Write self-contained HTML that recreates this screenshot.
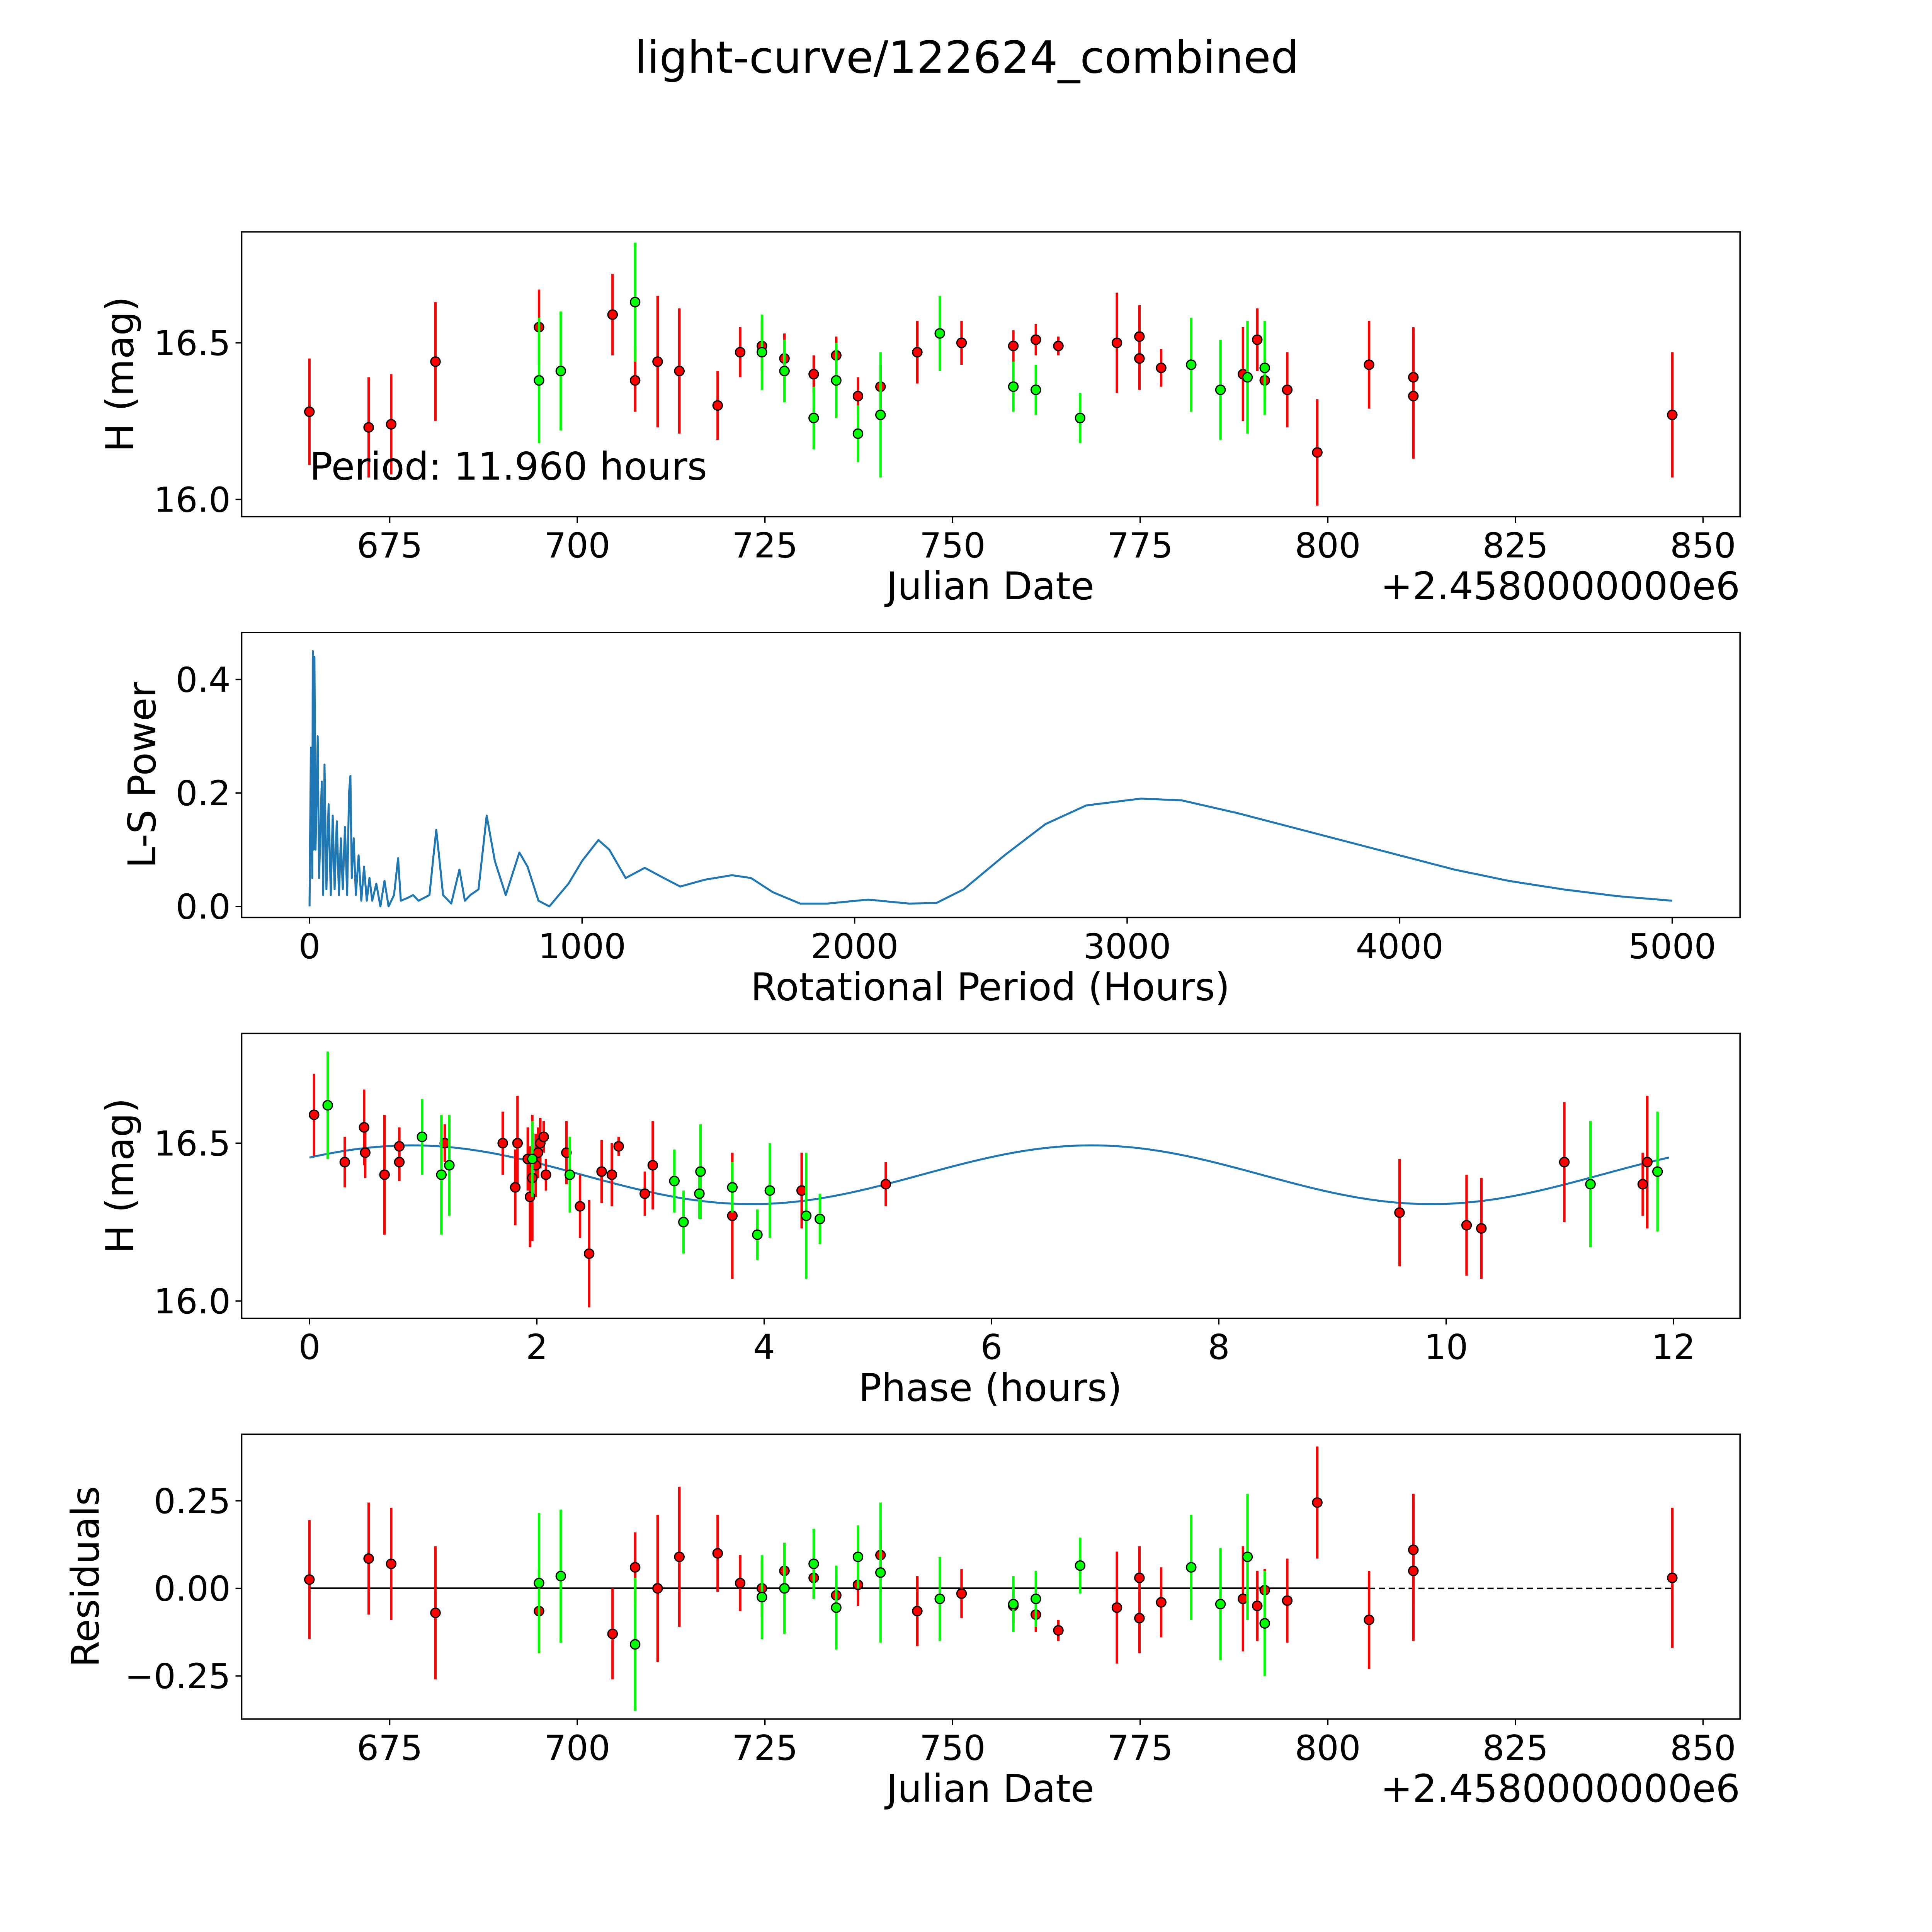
<!DOCTYPE html>
<html><head><meta charset="utf-8"><style>
html,body{margin:0;padding:0;background:#fff;overflow:hidden;width:5400px;height:5400px}
svg{display:block}
text{font-family:"DejaVu Sans","Liberation Sans",sans-serif;fill:#000}
</style></head><body>
<svg id="fig" xmlns="http://www.w3.org/2000/svg" width="5400" height="5400" viewBox="0 0 1692 1692">
<rect width="1692" height="1692" fill="#fff"/>
<text x="784" y="59" font-size="36" text-anchor="middle">light-curve/122624_combined</text>
</svg>
<script>
// ---- Panel 1: light curve data (JD offset from 2458000, mag, err) ----
const lcRedJD=[664.3,672.2,675.2,681.1,694.9,704.7,707.7,710.7,713.6,718.7,721.7,724.6,727.6,731.5,734.5,737.4,740.4,745.3,751.2,758.1,761.1,764.1,771.9,774.9,774.9,777.8,788.7,790.6,791.6,794.6,798.6,805.5,811.4,811.4,845.9];
const lcRedMag=[16.28,16.23,16.24,16.44,16.55,16.59,16.38,16.44,16.41,16.30,16.47,16.49,16.45,16.40,16.46,16.33,16.36,16.47,16.50,16.49,16.51,16.49,16.50,16.52,16.45,16.42,16.40,16.51,16.38,16.35,16.15,16.43,16.39,16.33,16.27];
const lcRedErr=[0.17,0.16,0.16,0.19,0.12,0.13,0.1,0.21,0.2,0.11,0.08,0.08,0.08,0.06,0.06,0.06,0.07,0.1,0.07,0.05,0.05,0.03,0.16,0.1,0.1,0.06,0.15,0.1,0.06,0.12,0.17,0.14,0.16,0.2,0.2];
const lcGreenJD=[694.9,697.8,707.7,724.6,727.6,731.5,734.5,737.4,740.4,748.3,758.1,761.1,767.0,781.8,785.7,789.3,791.6];
const lcGreenMag=[16.38,16.41,16.63,16.47,16.41,16.26,16.38,16.21,16.27,16.53,16.36,16.35,16.26,16.43,16.35,16.39,16.42];
const lcGreenErr=[0.2,0.19,0.19,0.12,0.1,0.1,0.12,0.09,0.2,0.12,0.08,0.08,0.08,0.15,0.16,0.18,0.15];
// ---- Panel 2: periodogram ----
const lsPeriod=[0,5,10,12,15,18,22,30,35,45,50,55,62,70,78,85,92,100,108,115,122,130,138,145,150,155,162,170,180,190,200,210,220,230,245,260,275,290,310,325,335,360,380,400,420,440,455,465,475,490,520,550,570,590,620,650,680,720,770,800,840,880,950,1000,1060,1100,1160,1230,1300,1360,1450,1550,1620,1700,1800,1900,2050,2200,2300,2400,2550,2700,2850,3050,3200,3400,3600,3800,4000,4200,4400,4600,4800,5000];
const lsPower=[0,0.28,0.05,0.45,0.1,0.44,0.1,0.3,0.05,0.22,0.02,0.25,0.03,0.18,0.02,0.16,0.03,0.15,0.02,0.12,0.03,0.14,0.02,0.2,0.23,0.05,0.12,0.02,0.09,0.01,0.07,0.01,0.05,0.01,0.04,0.0,0.045,0.0,0.02,0.085,0.01,0.015,0.02,0.01,0.015,0.02,0.09,0.135,0.09,0.02,0.005,0.065,0.01,0.02,0.03,0.16,0.08,0.02,0.095,0.07,0.01,0.0,0.04,0.08,0.117,0.1,0.05,0.068,0.05,0.035,0.047,0.055,0.05,0.025,0.005,0.005,0.012,0.005,0.006,0.03,0.09,0.145,0.178,0.19,0.187,0.165,0.14,0.115,0.09,0.065,0.045,0.03,0.018,0.01];
// ---- Panel 3: phased ----
const phRedP=[0.04,0.31,0.48,0.49,0.66,0.79,0.79,1.19,1.70,1.81,1.83,1.92,1.94,1.96,1.99,2.01,2.03,2.06,2.08,2.26,2.38,2.46,2.57,2.66,2.72,2.95,3.02,3.72,4.33,5.07,9.59,10.18,10.31,11.04,11.73,11.77];
const phRedMag=[16.59,16.44,16.55,16.47,16.40,16.49,16.44,16.50,16.50,16.36,16.50,16.45,16.33,16.39,16.43,16.47,16.50,16.52,16.40,16.47,16.30,16.15,16.41,16.40,16.49,16.34,16.43,16.27,16.35,16.37,16.28,16.24,16.23,16.44,16.37,16.44];
const phRedErr=[0.13,0.08,0.12,0.08,0.19,0.06,0.06,0.06,0.1,0.12,0.15,0.1,0.16,0.2,0.1,0.08,0.08,0.05,0.05,0.1,0.1,0.17,0.1,0.1,0.03,0.07,0.14,0.2,0.12,0.07,0.17,0.16,0.16,0.19,0.1,0.21];
const phGreenP=[0.16,0.99,1.16,1.23,1.96,2.29,3.21,3.29,3.43,3.44,3.72,3.94,4.05,4.37,4.49,11.27,11.86];
const phGreenMag=[16.62,16.52,16.40,16.43,16.45,16.40,16.38,16.25,16.34,16.41,16.36,16.21,16.35,16.27,16.26,16.37,16.41];
const phGreenErr=[0.17,0.12,0.19,0.16,0.12,0.12,0.1,0.1,0.08,0.15,0.08,0.08,0.15,0.2,0.08,0.2,0.19];
const modelOffset=16.40, modelAmp=0.093, modelPeriod=5.98, modelPeakPhase=0.9, modelMax=11.96;
// ---- Panel 4: residuals ----
const resRedJD=lcRedJD.slice();
const resRed=[0.025,0.085,0.07,-0.07,-0.065,-0.13,0.06,0,0.09,0.10,0.015,0,0.05,0.03,-0.02,0.01,0.095,-0.065,-0.015,-0.05,-0.075,-0.12,-0.055,0.03,-0.085,-0.04,-0.03,-0.05,-0.005,-0.035,0.245,-0.09,0.11,0.05,0.03];
const resRedErr=[0.17,0.16,0.16,0.19,0.12,0.13,0.1,0.21,0.2,0.11,0.08,0.08,0.08,0.06,0.06,0.06,0.07,0.1,0.07,0.05,0.05,0.03,0.16,0.09,0.1,0.1,0.15,0.1,0.06,0.12,0.16,0.14,0.16,0.2,0.2];
const resGreenJD=lcGreenJD.slice();
const resGreen=[0.015,0.035,-0.16,-0.025,0,0.07,-0.055,0.09,0.045,-0.03,-0.045,-0.03,0.065,0.06,-0.045,0.09,-0.1];
const resGreenErr=[0.2,0.19,0.19,0.12,0.13,0.1,0.12,0.09,0.2,0.12,0.08,0.08,0.08,0.15,0.16,0.18,0.15];

const NS="http://www.w3.org/2000/svg";
const fig=document.getElementById('fig');
function mk(tag,attrs,parent,text){const e=document.createElementNS(NS,tag);for(const k in attrs)e.setAttribute(k,attrs[k]);if(text!==undefined)e.textContent=text;(parent||fig).appendChild(e);return e;}
const L=196,R=1411;
function lin(d0,d1,p0,p1){return v=>p0+(v-d0)*(p1-p0)/(d1-d0);}
const ytitleMap={'lightcurve-panel':'H (mag)','periodogram-panel':'L-S Power','phase-panel':'H (mag)','residuals-panel':'Residuals'};

function axesFrame(name,top,bot,xs,xticks,xlab,ys,yticks,ylab,ylabX,xtitle,offset){
  const g=mk('g',{},fig);
  
  
  const fr=mk('rect',{x:L,y:top,width:R-L,height:bot-top,fill:'none',stroke:'#000','stroke-width':1.1},g);
  
  
  xticks.forEach((t,i)=>{const x=xs(t);
    mk('line',{x1:x,y1:bot,x2:x,y2:bot+5,stroke:'#000','stroke-width':1.1},g);
    const tx=mk('text',{x:x,y:bot+33,'font-size':28,'text-anchor':'middle'},g,xlab[i]);
    
    });
  yticks.forEach((t,i)=>{const y=ys(t);
    mk('line',{x1:L,y1:y,x2:L-5,y2:y,stroke:'#000','stroke-width':1.1},g);
    const ty=mk('text',{x:L-9,y:y+10,'font-size':28,'text-anchor':'end'},g,ylab[i]);
    
    });
  const xt=mk('text',{x:803,y:bot+67,'font-size':31,'text-anchor':'middle'},g,xtitle);
  
  
  const cy=(top+bot)/2;
  const yt=mk('text',{x:ylabX,y:cy,'font-size':31,'text-anchor':'middle',transform:`rotate(-90 ${ylabX} ${cy})`},g,ytitleMap[name]);
  
  
  if(offset){const o=mk('text',{x:R,y:bot+67,'font-size':31,'text-anchor':'end'},g,offset);
    
    }
  return g;
}

function errPoints(g,xsArr,ysArr,errs,xs,ys,color,name){
  xsArr.forEach((v,i)=>{const x=xs(v);
    const l=mk('line',{x1:x,x2:x,y1:ys(ysArr[i]-errs[i]),y2:ys(ysArr[i]+errs[i]),stroke:color,'stroke-width':2},g);
    
    });
  xsArr.forEach((v,i)=>{
    const c=mk('circle',{cx:xs(v),cy:ys(ysArr[i]),r:3.8,fill:color,stroke:'#000','stroke-width':1},g);
    
    });
}

// Panel 1
const jdTicks=[675,700,725,750,775,800,825,850];
const xJD=lin(675,850,316,1381);
const y1=lin(16.5,16.0,278,405);
const g1=axesFrame('lightcurve-panel',188,419,xJD,jdTicks,jdTicks.map(String),y1,[16.0,16.5],['16.0','16.5'],108,'Julian Date','+2.4580000000e6');
errPoints(g1,lcRedJD,lcRedMag,lcRedErr,xJD,y1,'#ff0000','red-obs');
errPoints(g1,lcGreenJD,lcGreenMag,lcGreenErr,xJD,y1,'#00ff00','green-obs');
const pt=mk('text',{x:251,y:389,'font-size':31},g1,'Period: 11.960 hours');



// Panel 2
const lsTicks=[0,1000,2000,3000,4000,5000];
const xLS=lin(0,5000,251,1356);
const y2=lin(0,0.4,735,551);
const g2=axesFrame('periodogram-panel',513,744,xLS,lsTicks,lsTicks.map(String),y2,[0,0.2,0.4],['0.0','0.2','0.4'],126,'Rotational Period (Hours)');
const lsp=mk('path',{d:lsPeriod.map((p,i)=>(i?'L':'M')+xLS(p).toFixed(2)+' '+y2(lsPower[i]).toFixed(2)).join(' '),fill:'none',stroke:'#1f77b4','stroke-width':1.6,'stroke-linejoin':'round'},g2);



// Panel 3
const phTicks=[0,2,4,6,8,10,12];
const xPh=lin(0,12,251,1357);
const y3=lin(16.5,16.0,927,1055);
const g3=axesFrame('phase-panel',838,1069,xPh,phTicks,phTicks.map(String),y3,[16.0,16.5],['16.0','16.5'],108,'Phase (hours)');
let md='';
for(let i=0;i<=400;i++){const p=modelMax*i/400;const m=modelOffset+modelAmp*Math.cos(2*Math.PI*(p-modelPeakPhase)/modelPeriod);md+=(i?'L':'M')+xPh(p).toFixed(2)+' '+y3(m).toFixed(2)+' ';}
const mp=mk('path',{d:md,fill:'none',stroke:'#1f77b4','stroke-width':1.6},g3);


errPoints(g3,phRedP,phRedMag,phRedErr,xPh,y3,'#ff0000','red-phase');
errPoints(g3,phGreenP,phGreenMag,phGreenErr,xPh,y3,'#00ff00','green-phase');

// Panel 4
const y4=lin(0,0.25,1288,1217);
const g4=axesFrame('residuals-panel',1163,1394,xJD,jdTicks,jdTicks.map(String),y4,[-0.25,0,0.25],['\u22120.25','0.00','0.25'],80,'Julian Date','+2.4580000000e6');
const zl=mk('line',{x1:xJD(664.3),x2:xJD(805.5),y1:y4(0),y2:y4(0),stroke:'#000','stroke-width':1.5},g4);


const zd=mk('line',{x1:xJD(805.5),x2:xJD(845.9),y1:y4(0),y2:y4(0),stroke:'#000','stroke-width':1.2,'stroke-dasharray':'5,3'},g4);


errPoints(g4,resRedJD,resRed,resRedErr,xJD,y4,'#ff0000','red-residual');
errPoints(g4,resGreenJD,resGreen,resGreenErr,xJD,y4,'#00ff00','green-residual');
</script>
</body></html>
